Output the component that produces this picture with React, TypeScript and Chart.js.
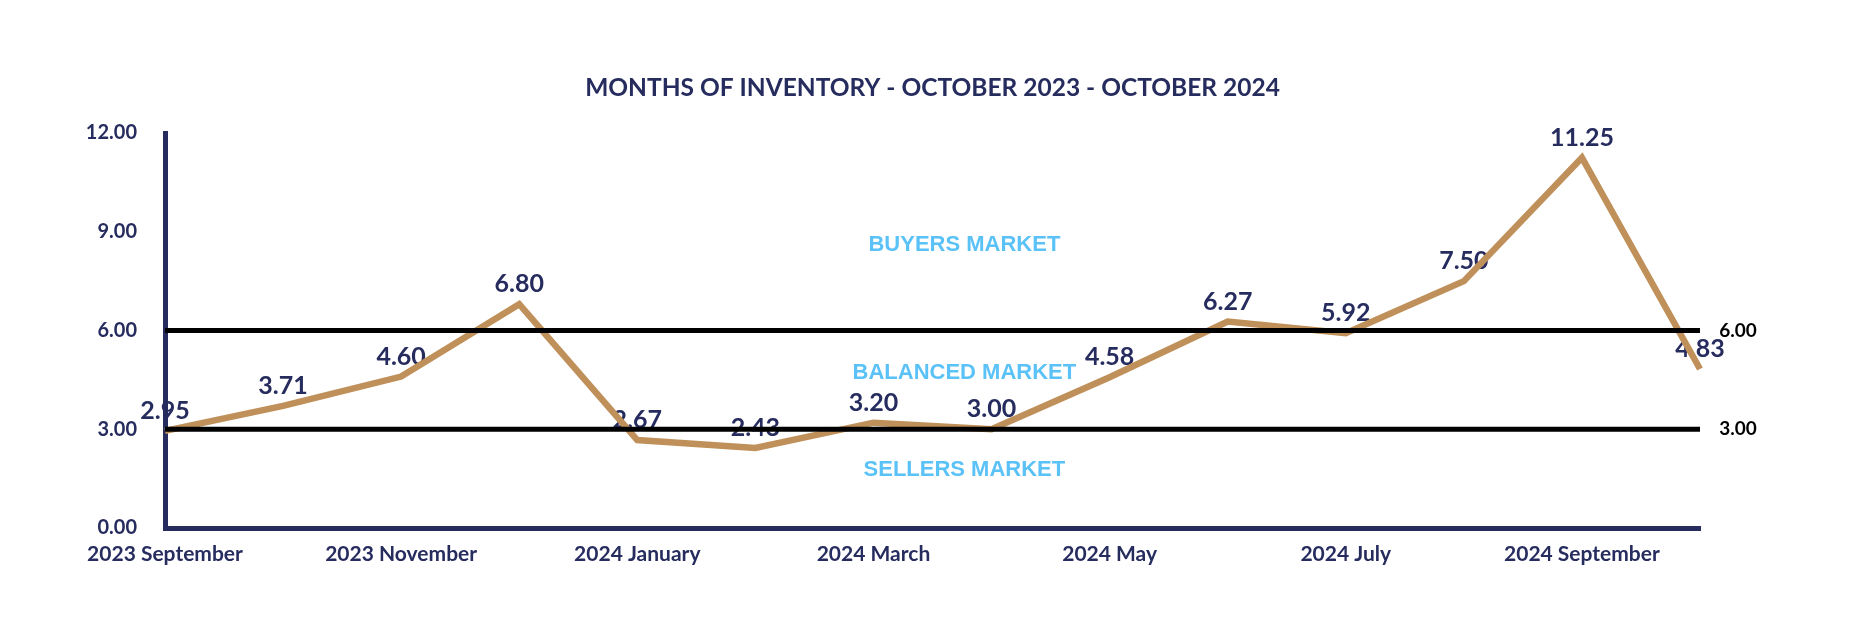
import React, { useEffect, useRef } from 'react';
import { Chart, registerables } from 'chart.js';

Chart.register(...registerables);

const months = [
  '2023 September', '2023 October', '2023 November', '2023 December',
  '2024 January', '2024 February', '2024 March', '2024 April',
  '2024 May', '2024 June', '2024 July', '2024 August',
  '2024 September', '2024 October',
];
const inventory = [2.95, 3.71, 4.6, 6.8, 2.67, 2.43, 3.2, 3.0, 4.58, 6.27, 5.92, 7.5, 11.25, 4.83];
const buyersThreshold = 6;
const sellersThreshold = 3;
const yTicks = [0, 3, 6, 9, 12];
const marketZones = ['BUYERS MARKET', 'BALANCED MARKET', 'SELLERS MARKET'];
const marketZoneLevels = [8.6, 4.7, 1.75];
const titleText = 'MONTHS OF INVENTORY - OCTOBER 2023 - OCTOBER 2024';

const NAVY = '#262c5e';
const TAN = '#c0905a';
const BLUE = '#5bc2f8';
const FONT = 'Lato';

const labelPlugin = {
  id: 'customLabels',
  beforeDatasetsDraw(chart: any) {
    const ctx = chart.ctx;
    const meta = chart.getDatasetMeta(0);
    const area = chart.chartArea;
    ctx.save();
    ctx.textAlign = 'center';
    ctx.textBaseline = 'middle';
    // title, centred over the plot area
    ctx.font = `bold 24.5px ${FONT}`;
    ctx.fillStyle = NAVY;
    ctx.fillText(titleText, (area.left + area.right) / 2, 88);
    // point value labels
    ctx.font = `bold 25px ${FONT}`;
    ctx.fillStyle = NAVY;
    meta.data.forEach((pt: any, i: number) => {
      ctx.fillText(inventory[i].toFixed(2), pt.x, pt.y - 20);
    });
    // market zone labels
    const xs = chart.scales.x;
    const ys = chart.scales.y;
    ctx.font = 'bold 22px "Liberation Sans"';
    ctx.fillStyle = BLUE;
    marketZones.forEach((t, i) => {
      ctx.fillText(t, xs.getPixelForValue(6.77), ys.getPixelForValue(marketZoneLevels[i]));
    });
    ctx.restore();
  },
  afterDatasetsDraw(chart: any) {
    const ctx = chart.ctx;
    ctx.save();
    ctx.textAlign = 'center';
    ctx.textBaseline = 'middle';
    ctx.font = `bold 19px ${FONT}`;
    ctx.fillStyle = '#000';
    [1, 2].forEach((di) => {
      const m = chart.getDatasetMeta(di);
      const last = m.data[m.data.length - 1];
      const v = chart.data.datasets[di].data[m.data.length - 1] as number;
      ctx.fillText(v.toFixed(2), last.x + 38, last.y);
    });
    ctx.restore();
  },
};

export default function App() {
  const ref = useRef<HTMLCanvasElement>(null);
  useEffect(() => {
    document.body.style.margin = '0';
    const chart = new Chart(ref.current!, {
      type: 'line',
      data: {
        labels: months,
        datasets: [
          {
            data: inventory,
            borderColor: TAN,
            borderWidth: 6.5,
            pointRadius: 0,
            tension: 0,
            borderJoinStyle: 'miter',
            order: 1,
          },
          {
            data: months.map(() => buyersThreshold),
            borderColor: '#000',
            borderWidth: 5,
            pointRadius: 0,
            order: 0,
          },
          {
            data: months.map(() => sellersThreshold),
            borderColor: '#000',
            borderWidth: 5,
            pointRadius: 0,
            order: 0,
          },
        ],
      },
      options: {
        responsive: false,
        animation: false,
        layout: { padding: { left: 0, right: 158, top: 133, bottom: 0 } },
        plugins: {
          legend: { display: false },
          tooltip: { enabled: false },
          title: { display: false },
        },
        scales: {
          x: {
            z: 1,
            grid: { display: false, drawTicks: false },
            border: { display: true, color: NAVY, width: 5 },
            ticks: {
              autoSkip: false,
              maxRotation: 0,
              padding: 14,
              color: NAVY,
              font: { family: FONT, size: 21, weight: 'bold' },
              callback: (_v: any, i: number) => (i % 2 === 0 ? months[i] : ''),
            },
            afterFit: (s: any) => { s.height = 114; },
          },
          y: {
            z: 1,
            min: 0,
            max: 12,
            grid: { display: false, drawTicks: false },
            border: { display: true, color: NAVY, width: 5 },
            afterBuildTicks: (s: any) => { s.ticks = yTicks.map((v) => ({ value: v })); },
            ticks: {
              padding: 28,
              color: NAVY,
              font: { family: FONT, size: 20, weight: 'bold' },
              callback: (v: any) => Number(v).toFixed(2),
            },
            afterFit: (s: any) => { s.width = 165; },
          },
        },
      },
      plugins: [labelPlugin],
    });
    return () => chart.destroy();
  }, []);
  return <canvas ref={ref} width={1858} height={642} style={{ display: 'block' }} />;
}
